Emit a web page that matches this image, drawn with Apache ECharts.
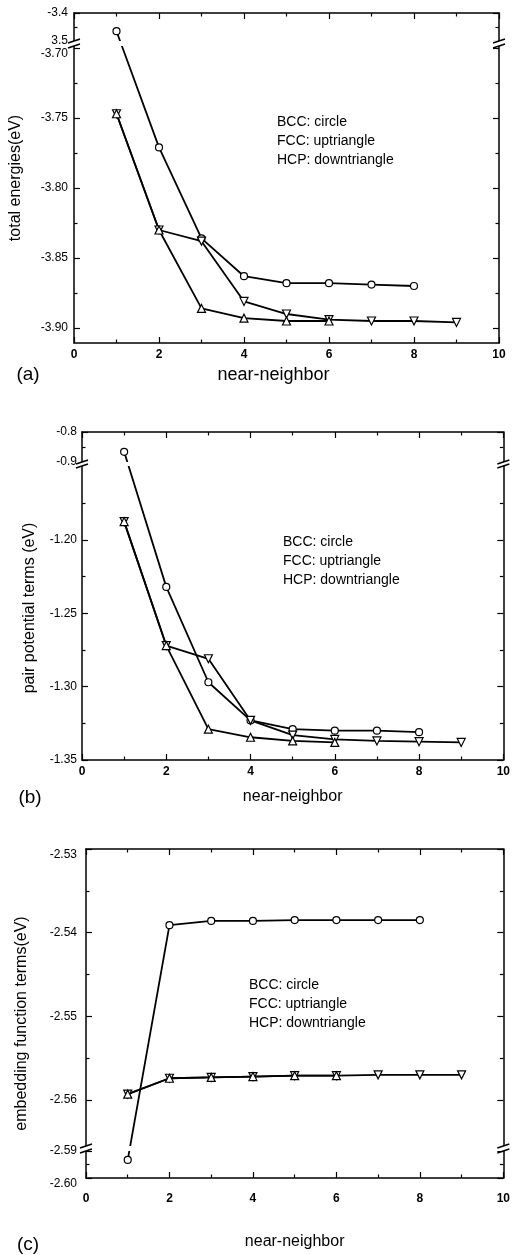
<!DOCTYPE html>
<html>
<head>
<meta charset="utf-8">
<script src="https://cdn.jsdelivr.net/npm/echarts@6/dist/echarts.min.js"></script>
<style>
html, body { margin: 0; padding: 0; background: #fff; }
#chart { width: 513px; height: 1255px; }
</style>
</head>
<body>
<div id="chart"></div>
<script>
// near-neighbor shells on the x axis
var neighbors = [1, 2, 3, 4, 5, 6, 7, 8, 9];

// (a) total energies (eV)
var bccEnergy = [-3.465, -3.771, -3.836, -3.863, -3.868, -3.868, -3.869, -3.870];
var fccEnergy = [-3.747, -3.830, -3.886, -3.893, -3.895, -3.895];
var hcpEnergy = [-3.747, -3.830, -3.838, -3.881, -3.890, -3.894, -3.895, -3.895, -3.896];
var energyTicks = [-3.90, -3.85, -3.80, -3.75, -3.70, -3.5, -3.4];
var energyTickLabels = ['-3.90', '-3.85', '-3.80', '-3.75', '-3.70', '3.5', '-3.4'];
var energyMinorTicks = [-3.875, -3.825, -3.775, -3.725, -3.45];

// (b) pair potential terms (eV)
var bccPair = [-0.866, -1.232, -1.297, -1.323, -1.329, -1.330, -1.330, -1.331];
var fccPair = [-1.1875, -1.272, -1.329, -1.3345, -1.337, -1.338];
var hcpPair = [-1.1875, -1.272, -1.281, -1.323, -1.333, -1.336, -1.337, -1.3375, -1.338];
var pairTicks = [-1.35, -1.30, -1.25, -1.20, -0.9, -0.8];
var pairTickLabels = ['-1.35', '-1.30', '-1.25', '-1.20', '-0.9', '-0.8'];
var pairMinorTicks = [-1.325, -1.275, -1.225, -1.175, -0.85];

// (c) embedding function terms (eV)
var bccEmbed = [-2.5933, -2.5391, -2.5386, -2.5386, -2.5385, -2.5385, -2.5385, -2.5385];
var fccEmbed = [-2.5593, -2.5574, -2.5573, -2.5572, -2.5571, -2.5571];
var hcpEmbed = [-2.5593, -2.5574, -2.5573, -2.5572, -2.5571, -2.5571, -2.5570, -2.5570, -2.5570];
var embedTicks = [-2.60, -2.59, -2.56, -2.55, -2.54, -2.53];
var embedTickLabels = ['-2.60', '-2.59', '-2.56', '-2.55', '-2.54', '-2.53'];
var embedMinorTicks = [-2.595, -2.555, -2.545, -2.535];

var legendText = 'BCC: circle\nFCC: uptriangle\nHCP: downtriangle';
var FONT = 'Liberation Sans, Arial, Helvetica, sans-serif';

// broken y scale: value segments stacked bottom to top, each with its own pixel length
function brokenScale(segs, gap) {
    var parts = [], t = 0;
    segs.forEach(function (s) {
        parts.push({from: s.from, to: s.to, t0: t, t1: t + s.len});
        t += s.len + gap;
    });
    function toT(v) {
        var best = parts[0], bestD = Infinity;
        parts.forEach(function (p) {
            var d = v < p.from ? p.from - v : (v > p.to ? v - p.to : 0);
            if (d < bestD) { bestD = d; best = p; }
        });
        return best.t0 + (v - best.from) / (best.to - best.from) * (best.t1 - best.t0);
    }
    return {total: t - gap, toT: toT, gapFrom: parts[0].t1, gapTo: parts[1].t0};
}

var panels = [
    {
        tag: '(a)', yName: 'total energies(eV)',
        left: 74, top: 13, width: 425,
        scale: brokenScale([{from: -3.9107, to: -3.6986, len: 297}, {from: -3.5, to: -3.4, len: 28}], 5),
        bcc: bccEnergy, fcc: fccEnergy, hcp: hcpEnergy,
        ticks: energyTicks, tickLabels: energyTickLabels, minor: energyMinorTicks, nudge: ['-3.70'],
        yLabelMargin: 6, yNameGap: 50, yNamePad: [0, 0, 0, 0],
        xLabelMargin: 6, xNameGap: 23, xNameSize: 18, xNamePad: [0, 26, 0, 0],
        legendPos: [277, 113], tagPos: [28, 375]
    },
    {
        tag: '(b)', yName: 'pair potential terms (eV)',
        left: 82, top: 432, width: 425,
        scale: brokenScale([{from: -1.35, to: -1.1496, len: 294}, {from: -0.9, to: -0.8, len: 30}], 4),
        bcc: bccPair, fcc: fccPair, hcp: hcpPair,
        ticks: pairTicks, tickLabels: pairTickLabels, minor: pairMinorTicks, nudge: [],
        yLabelMargin: 5, yNameGap: 44, yNamePad: [0, 24, 0, 0],
        xLabelMargin: 6, xNameGap: 29, xNameSize: 16, xNamePad: [0, 0, 0, 0],
        legendPos: [283, 533], tagPos: [30, 798]
    },
    {
        tag: '(c)', yName: 'embedding function terms(eV)',
        left: 86, top: 849, width: 426,
        scale: brokenScale([{from: -2.60, to: -2.59, len: 27}, {from: -2.5655, to: -2.53, len: 297}], 5),
        bcc: bccEmbed, fcc: fccEmbed, hcp: hcpEmbed,
        ticks: embedTicks, tickLabels: embedTickLabels, minor: embedMinorTicks, nudge: ['-2.60', '-2.53'],
        yLabelMargin: 9, yNameGap: 56, yNamePad: [0, 20, 0, 0],
        xLabelMargin: 15, xNameGap: 56, xNameSize: 16, xNamePad: [0, 0, 0, 0],
        legendPos: [249, 976], tagPos: [28, 1245]
    }
];

var black = '#000';
var grids = [], xAxes = [], yAxes = [], series = [], graphics = [];

panels.forEach(function (p, i) {
    var sc = p.scale;
    grids.push({left: p.left, top: p.top, width: p.width, height: sc.total, show: false});

    var majorT = p.ticks.map(sc.toT);
    var minorT = p.minor.map(sc.toT);
    var labelByT = {};
    majorT.forEach(function (t, k) {
        var lab = p.tickLabels[k];
        labelByT[Math.round(t * 100)] = p.nudge.indexOf(lab) >= 0 ? '{dn|' + lab + '}' : lab;
    });

    var xBase = {
        gridIndex: i, type: 'value', min: 0, max: 10, interval: 2,
        axisLine: {show: true, onZero: false, lineStyle: {color: black, width: 1.5}},
        axisTick: {show: true, inside: true, length: 6, lineStyle: {color: black, width: 1.2}},
        minorTick: {show: true, splitNumber: 2, length: 3.5, lineStyle: {color: black, width: 1.2}},
        splitLine: {show: false}, minorSplitLine: {show: false}
    };
    xAxes.push(Object.assign({}, xBase, {
        position: 'bottom',
        axisLabel: {margin: p.xLabelMargin, color: black, fontSize: 12, fontWeight: 'bold', fontFamily: FONT},
        name: 'near-neighbor', nameLocation: 'middle', nameGap: p.xNameGap,
        nameTextStyle: {color: black, fontSize: p.xNameSize, fontFamily: FONT, padding: p.xNamePad}
    }));
    xAxes.push(Object.assign({}, xBase, {position: 'top', axisLabel: {show: false}}));

    function yAxis(pos, ticks, len, withLine, withLabel) {
        var ax = {
            gridIndex: i, type: 'value', min: 0, max: sc.total, position: pos,
            axisLine: {show: withLine, onZero: false, lineStyle: {color: black, width: 1.5}},
            axisTick: {show: true, inside: true, length: len, customValues: ticks,
                       lineStyle: {color: black, width: 1.2}},
            axisLabel: {show: false},
            splitLine: {show: false}
        };
        if (withLabel) {
            ax.axisLabel = {
                show: true, customValues: majorT, margin: p.yLabelMargin,
                color: black, fontSize: 12, fontFamily: FONT,
                formatter: function (v) { return labelByT[Math.round(v * 100)] || ''; },
                rich: {dn: {padding: [11, 0, 0, 0], fontSize: 12, fontFamily: FONT, color: black}}
            };
            ax.name = p.yName;
            ax.nameLocation = 'middle';
            ax.nameRotate = 90;
            ax.nameGap = p.yNameGap;
            ax.nameTextStyle = {color: black, fontSize: 16, fontFamily: FONT, padding: p.yNamePad};
        }
        return ax;
    }
    yAxes.push(yAxis('left', majorT, 6, true, true));
    yAxes.push(yAxis('left', minorT, 3.5, false, false));
    yAxes.push(yAxis('right', majorT, 6, true, false));
    yAxes.push(yAxis('right', minorT, 3.5, false, false));

    function line(vals, symbol, rotate, size) {
        return {
            type: 'line', xAxisIndex: 2 * i, yAxisIndex: 4 * i,
            data: vals.map(function (v, k) { return [neighbors[k], sc.toT(v)]; }),
            symbol: symbol, symbolSize: size, symbolRotate: rotate, showAllSymbol: true,
            lineStyle: {color: black, width: 1.8},
            itemStyle: {color: '#fff', borderColor: black, borderWidth: 1.2},
            silent: true, animation: false
        };
    }
    series.push(line(p.bcc, 'circle', 0, 7));
    series.push(line(p.hcp, 'triangle', 180, 8));
    series.push(line(p.fcc, 'triangle', 0, 8));

    graphics.push({
        type: 'text', x: p.legendPos[0], y: p.legendPos[1], silent: true,
        style: {text: legendText, fill: black, fontSize: 14, fontFamily: FONT, lineHeight: 19, verticalAlign: 'top'}
    });
    graphics.push({
        type: 'text', x: p.tagPos[0], y: p.tagPos[1], silent: true,
        style: {text: p.tag, fill: black, fontSize: 19, fontFamily: FONT, align: 'center', verticalAlign: 'middle'}
    });
});

var chart = echarts.init(document.getElementById('chart'));
chart.setOption({
    animation: false,
    grid: grids,
    xAxis: xAxes,
    yAxis: yAxes,
    series: series
});

// axis break marks, placed from the axes themselves
panels.forEach(function (p, i) {
    var yA = chart.convertToPixel({yAxisIndex: 4 * i}, p.scale.gapFrom);
    var yB = chart.convertToPixel({yAxisIndex: 4 * i}, p.scale.gapTo);
    var xL = chart.convertToPixel({xAxisIndex: 2 * i}, 0);
    var xR = chart.convertToPixel({xAxisIndex: 2 * i}, 10);
    graphics.push({
        type: 'rect', z: 100, silent: true,
        shape: {x: xL - 2, y: yB, width: xR - xL + 4, height: yA - yB},
        style: {fill: '#fff'}
    });
    [xL, xR].forEach(function (x) {
        [yA, yB].forEach(function (y) {
            graphics.push({
                type: 'line', z: 101, silent: true,
                shape: {x1: x - 6, y1: y + 2, x2: x + 6, y2: y - 2},
                style: {stroke: black, lineWidth: 1.4}
            });
        });
    });
});
chart.setOption({graphic: graphics});
</script>
</body>
</html>
